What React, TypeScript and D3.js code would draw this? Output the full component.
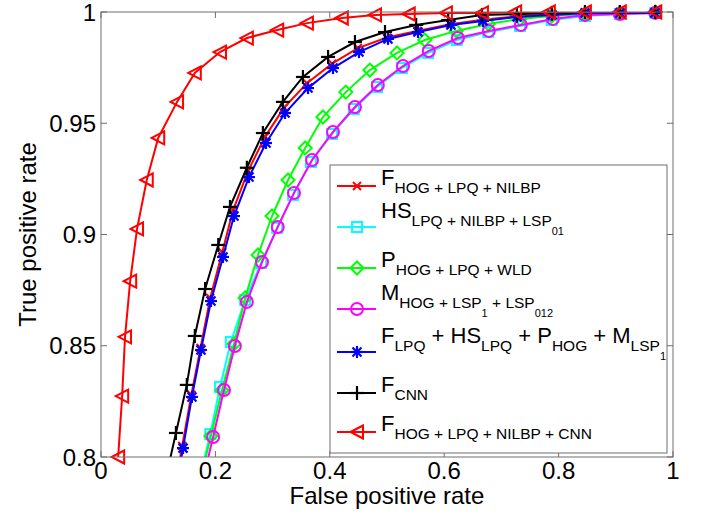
import React from "react";
import * as d3 from "d3";

// ROC curves, values (fpr, tpr)
const fHogLpqNilbpFpr = [0.126, 0.142, 0.158, 0.174, 0.191, 0.212, 0.231, 0.257, 0.287, 0.320, 0.360, 0.404, 0.449, 0.500, 0.553, 0.611, 0.667, 0.727, 0.788, 0.846, 0.907, 0.969];
const fHogLpqNilbpTpr = [0.782, 0.805, 0.828, 0.849, 0.8715, 0.892, 0.911, 0.9285, 0.944, 0.957, 0.968, 0.9768, 0.9838, 0.9885, 0.9915, 0.9945, 0.9965, 0.998, 0.999, 0.9996, 1, 1];

const hsFpr = [0.171, 0.191, 0.208, 0.227, 0.252, 0.280, 0.308, 0.336, 0.367, 0.404, 0.442, 0.4825, 0.526, 0.572, 0.622, 0.677, 0.7325, 0.788, 0.846, 0.907, 0.969];
const hsTpr = [0.789, 0.8103, 0.8315, 0.8517, 0.8706, 0.8872, 0.903, 0.9178, 0.9326, 0.9452, 0.9564, 0.9663, 0.9748, 0.9816, 0.9874, 0.991, 0.9937, 0.9964, 0.9982, 0.9991, 0.9996];

const pFpr = [0.173, 0.192, 0.2115, 0.2325, 0.252, 0.2745, 0.299, 0.327, 0.357, 0.388, 0.428, 0.470, 0.5175, 0.566, 0.621, 0.677, 0.7325, 0.788, 0.846, 0.907, 0.969];
const pTpr = [0.789, 0.8094, 0.830, 0.8508, 0.8715, 0.8908, 0.9083, 0.9245, 0.9389, 0.9528, 0.964, 0.9739, 0.9816, 0.9874, 0.9915, 0.9946, 0.9969, 0.9982, 0.9991, 0.9996, 1];

const mFpr = [0.1766, 0.196, 0.215, 0.234, 0.255, 0.2815, 0.309, 0.3374, 0.369, 0.4056, 0.444, 0.484, 0.528, 0.573, 0.624, 0.678, 0.734, 0.790, 0.846, 0.907, 0.969];
const mTpr = [0.788, 0.809, 0.8301, 0.8499, 0.8697, 0.8876, 0.9034, 0.9187, 0.9335, 0.9461, 0.9573, 0.9672, 0.9757, 0.9825, 0.9883, 0.9915, 0.9942, 0.9969, 0.9987, 0.9991, 0.9996];

const allFpr = [0.1276, 0.1434, 0.159, 0.1748, 0.1923, 0.2133, 0.2325, 0.2587, 0.2885, 0.3217, 0.3619, 0.4056, 0.451, 0.5017, 0.5542, 0.6119, 0.6678, 0.7273, 0.7885, 0.8462, 0.9073, 0.9685];
const allTpr = [0.781, 0.804, 0.827, 0.8481, 0.8701, 0.8899, 0.9083, 0.9258, 0.9411, 0.9546, 0.9658, 0.9748, 0.982, 0.9879, 0.991, 0.9942, 0.996, 0.9978, 0.9987, 0.9996, 0.9996, 0.9996];

const cnnFpr = [0.112, 0.131, 0.150, 0.164, 0.182, 0.205, 0.2255, 0.255, 0.283, 0.318, 0.353, 0.397, 0.444, 0.4965, 0.551, 0.607, 0.666, 0.727, 0.788, 0.846, 0.907, 0.969];
const cnnTpr = [0.789, 0.8108, 0.8324, 0.8544, 0.8755, 0.8953, 0.9124, 0.930, 0.9456, 0.9596, 0.9708, 0.9798, 0.9865, 0.991, 0.9942, 0.9964, 0.9987, 0.999, 0.9996, 1, 1, 1];

const fusionFpr = [0.030, 0.037, 0.042, 0.051, 0.063, 0.080, 0.100, 0.133, 0.164, 0.208, 0.255, 0.308, 0.360, 0.421, 0.479, 0.538, 0.603, 0.666, 0.724, 0.783, 0.846, 0.907, 0.969];
const fusionTpr = [0.800, 0.8274, 0.854, 0.879, 0.9025, 0.9245, 0.9434, 0.9596, 0.9726, 0.982, 0.9883, 0.9919, 0.995, 0.9973, 0.9987, 0.9991, 0.9996, 0.9996, 1, 1, 1, 1, 1];

const xTicks = [0, 0.2, 0.4, 0.6, 0.8, 1];
const xTickLabels = ["0", "0.2", "0.4", "0.6", "0.8", "1"];
const yTicks = [0.8, 0.85, 0.9, 0.95, 1];
const yTickLabels = ["0.8", "0.85", "0.9", "0.95", "1"];

// legend labels as [text, level] pieces (0 = normal, 1 = subscript, 2 = sub-subscript)
const labelF = [["F", 0], ["HOG + LPQ + NILBP", 1]];
const labelHS = [["HS", 0], ["LPQ + NILBP + LSP", 1], ["01", 2]];
const labelP = [["P", 0], ["HOG + LPQ + WLD", 1]];
const labelM = [["M", 0], ["HOG + LSP", 1], ["1", 2], [" + LSP", 1], ["012", 2]];
const labelAll = [["F", 0], ["LPQ", 1], [" + HS", 0], ["LPQ", 1], [" + P", 0], ["HOG", 1], [" + M", 0], ["LSP", 1], ["1", 2]];
const labelCnn = [["F", 0], ["CNN", 1]];
const labelFusion = [["F", 0], ["HOG + LPQ + NILBP + CNN", 1]];

const series = [
  { fpr: fHogLpqNilbpFpr, tpr: fHogLpqNilbpTpr, color: "#ff0000", marker: "x", label: labelF },
  { fpr: hsFpr, tpr: hsTpr, color: "#00ffff", marker: "square", label: labelHS },
  { fpr: pFpr, tpr: pTpr, color: "#00ff00", marker: "diamond", label: labelP },
  { fpr: mFpr, tpr: mTpr, color: "#ff00ff", marker: "circle", label: labelM },
  { fpr: allFpr, tpr: allTpr, color: "#0000ff", marker: "star", label: labelAll },
  { fpr: cnnFpr, tpr: cnnTpr, color: "#000000", marker: "plus", label: labelCnn },
  { fpr: fusionFpr, tpr: fusionTpr, color: "#ff0000", marker: "triangle", label: labelFusion },
];

const FONT = "'Liberation Sans', Arial, Helvetica, sans-serif";
const AXIS = "#6e6e6e";

function Marker({ type, x, y, color }) {
  const sw = 2;
  const common = { fill: "none", stroke: color, strokeWidth: sw };
  if (type === "x") {
    const s = 4;
    return (
      <g {...common}>
        <line x1={x - s} y1={y - s} x2={x + s} y2={y + s} />
        <line x1={x - s} y1={y + s} x2={x + s} y2={y - s} />
      </g>
    );
  }
  if (type === "square") return <rect x={x - 5} y={y - 5} width={10} height={10} {...common} />;
  if (type === "diamond")
    return <polygon points={`${x},${y - 6.5} ${x + 6.5},${y} ${x},${y + 6.5} ${x - 6.5},${y}`} {...common} />;
  if (type === "circle") return <circle cx={x} cy={y} r={6} {...common} />;
  if (type === "star") {
    const s = 6;
    const d = 4.5;
    return (
      <g {...common} strokeWidth={2.2}>
        <line x1={x - s} y1={y} x2={x + s} y2={y} />
        <line x1={x} y1={y - s} x2={x} y2={y + s} />
        <line x1={x - d} y1={y - d} x2={x + d} y2={y + d} />
        <line x1={x - d} y1={y + d} x2={x + d} y2={y - d} />
      </g>
    );
  }
  if (type === "plus") {
    const s = 7;
    return (
      <g {...common} strokeWidth={2.2}>
        <line x1={x - s} y1={y} x2={x + s} y2={y} />
        <line x1={x} y1={y - s} x2={x} y2={y + s} />
      </g>
    );
  }
  // left-pointing triangle
  return <polygon points={`${x - 6.5},${y} ${x + 6},${y - 6.5} ${x + 6},${y + 6.5}`} {...common} />;
}

function RichLabel({ x, y, parts }) {
  const shift = [0, 8, 17];
  const size = [22, 15.5, 11];
  let prev = 0;
  return (
    <text x={x} y={y} fontFamily={FONT} fill="#000" style={{ whiteSpace: "pre" }}>
      {parts.map(([t, lvl], i) => {
        const dy = shift[lvl] - shift[prev];
        prev = lvl;
        return (
          <tspan key={i} dy={dy} fontSize={size[lvl]}>
            {t}
          </tspan>
        );
      })}
    </text>
  );
}

export default function App() {
  const width = 708;
  const height = 526;
  const left = 101, right = 673, top = 12, bottom = 457;

  const x = d3.scaleLinear().domain([0, 1]).range([left, right]);
  const y = d3.scaleLinear().domain([0.8, 1]).range([bottom, top]);

  const line = d3
    .line()
    .x((d) => x(d[0]))
    .y((d) => y(d[1]));

  // legend layout
  const legX = 330, legY = 165, legW = 337, legH = 288;
  let cy = 186;
  const rows = series.map((s, i) => {
    const nested = s.label.some((p) => p[1] === 2);
    if (i > 0) {
      const prevNested = series[i - 1].label.some((p) => p[1] === 2);
      cy += (prevNested ? 21.5 : 19.5) + (nested ? 21.5 : 19.5);
    }
    return { ...s, cy, base: cy + (nested ? -9 : -1) };
  });

  return (
    <svg
      width={width}
      height={height}
      style={{ position: "absolute", left: 0, top: 0, background: "#fff" }}
    >
      <defs>
        <clipPath id="plotArea">
          <rect x={left} y={top} width={right - left} height={bottom - top} />
        </clipPath>
      </defs>
      <rect x={left} y={top} width={right - left} height={bottom - top} fill="#fff" />

      {/* ticks */}
      <g stroke={AXIS} strokeWidth={1}>
        {xTicks.map((t, i) => (
          <g key={"xt" + i}>
            <line x1={x(t)} x2={x(t)} y1={bottom} y2={bottom - 6} />
            <line x1={x(t)} x2={x(t)} y1={top} y2={top + 6} />
          </g>
        ))}
        {yTicks.map((t, i) => (
          <g key={"yt" + i}>
            <line x1={left} x2={left + 6} y1={y(t)} y2={y(t)} />
            <line x1={right} x2={right - 6} y1={y(t)} y2={y(t)} />
          </g>
        ))}
      </g>

      {/* curves */}
      {series.map((s, i) => {
        const pts = s.fpr.map((f, j) => [f, s.tpr[j]]);
        return (
          <g key={"s" + i}>
            <path
              d={line(pts)}
              fill="none"
              stroke={s.color}
              strokeWidth={2}
              clipPath="url(#plotArea)"
            />
            {pts
              .filter((p) => p[1] >= 0.8)
              .map((p, j) => (
                <Marker key={j} type={s.marker} x={x(p[0])} y={y(p[1])} color={s.color} />
              ))}
          </g>
        );
      })}

      <rect
        x={left}
        y={top}
        width={right - left}
        height={bottom - top}
        fill="none"
        stroke={AXIS}
        strokeWidth={1}
      />

      {/* tick labels */}
      <g fontFamily={FONT} fontSize={24} fill="#000">
        {xTicks.map((t, i) => (
          <text key={"xl" + i} x={x(t)} y={479} textAnchor="middle">
            {xTickLabels[i]}
          </text>
        ))}
        {yTicks.map((t, i) => (
          <text key={"yl" + i} x={96} y={y(t) + 8.5} textAnchor="end">
            {yTickLabels[i]}
          </text>
        ))}
      </g>

      <text x={(left + right) / 2} y={504} textAnchor="middle" fontFamily={FONT} fontSize={24}>
        False positive rate
      </text>
      <text
        transform={`translate(36, ${(top + bottom) / 2}) rotate(-90)`}
        textAnchor="middle"
        fontFamily={FONT}
        fontSize={24}
      >
        True positive rate
      </text>

      {/* legend */}
      <rect x={legX} y={legY} width={legW} height={legH} fill="#fff" stroke={AXIS} strokeWidth={1} />
      {rows.map((r, i) => (
        <g key={"lg" + i}>
          <line x1={337} x2={376} y1={r.cy} y2={r.cy} stroke={r.color} strokeWidth={2} />
          <Marker type={r.marker} x={357} y={r.cy} color={r.color} />
          <RichLabel x={381} y={r.base} parts={r.label} />
        </g>
      ))}
    </svg>
  );
}
